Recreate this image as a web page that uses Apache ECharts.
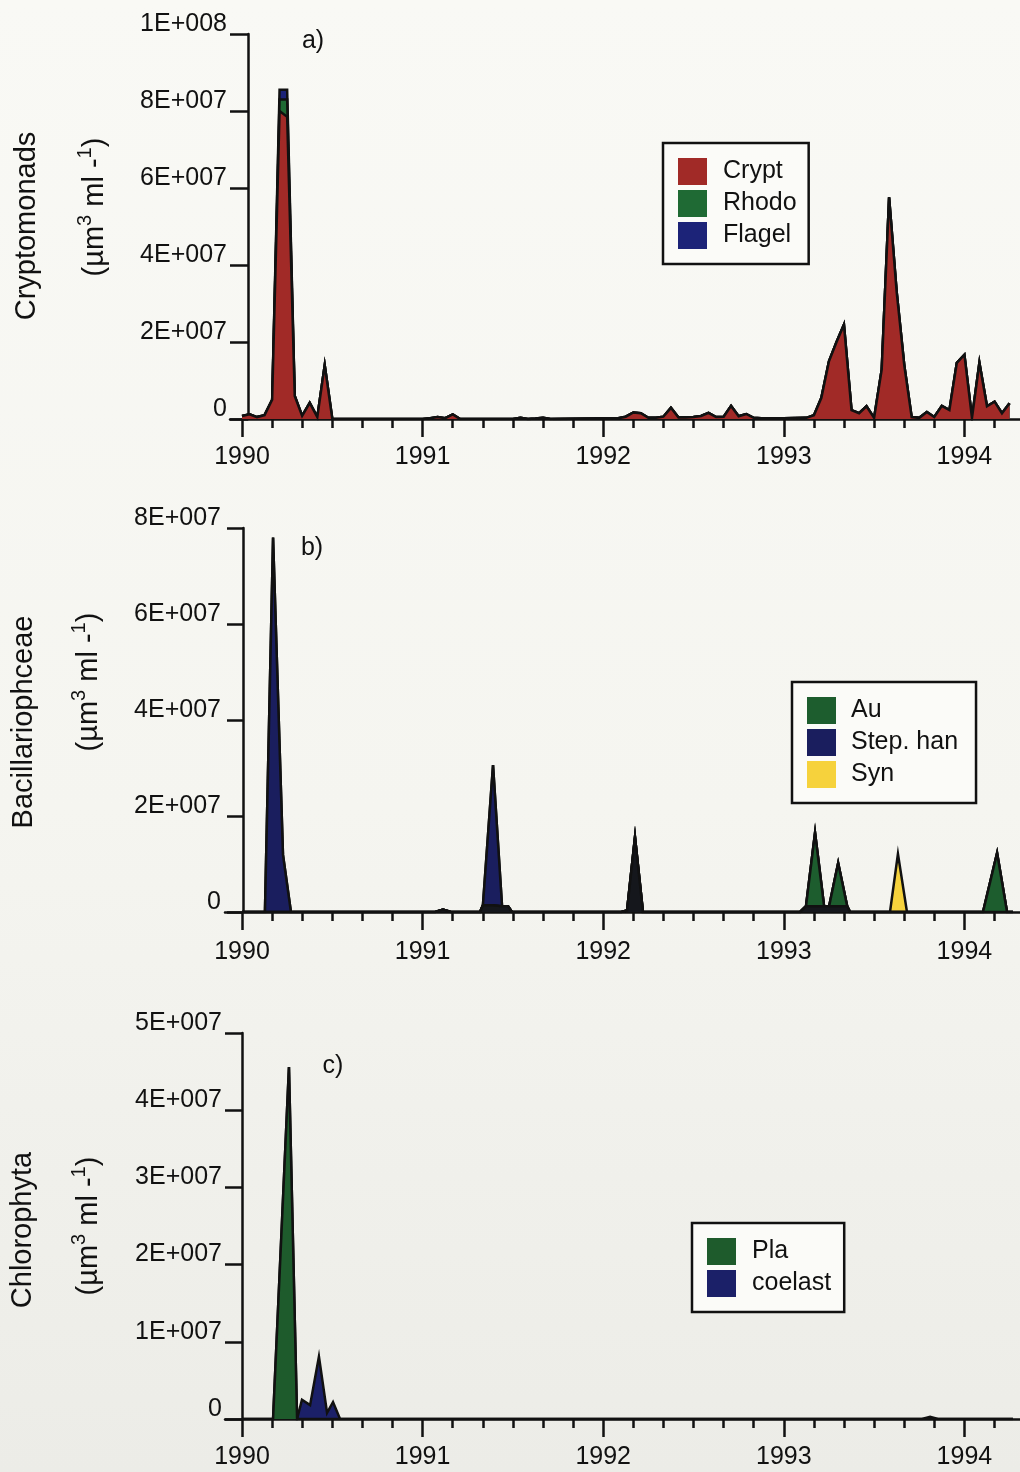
<!DOCTYPE html>
<html>
<head>
<meta charset="utf-8">
<script src="https://cdn.jsdelivr.net/npm/echarts@6/dist/echarts.min.js"></script>
<style>
  html, body { margin: 0; padding: 0; }
  body { background: linear-gradient(#F9F9F5 0%, #F5F5F0 55%, #ECECE7 100%); }
  #chart { width: 1020px; height: 1472px; }
</style>
</head>
<body>
<div id="chart"></div>
<script>
// ---- Panel a: Cryptomonads (sampling dates in decimal years, biovolume in µm3 ml-1)
const datesA = [1990.000, 1990.042, 1990.083, 1990.125, 1990.167, 1990.208, 1990.250, 1990.292, 1990.333, 1990.375,
  1990.417, 1990.458, 1990.500, 1990.833, 1991.000, 1991.042, 1991.083, 1991.125, 1991.167, 1991.208,
  1991.500, 1991.542, 1991.583, 1991.625, 1991.667, 1991.708, 1992.083, 1992.125, 1992.167, 1992.208,
  1992.250, 1992.292, 1992.333, 1992.375, 1992.417, 1992.458, 1992.500, 1992.542, 1992.583, 1992.625,
  1992.667, 1992.708, 1992.750, 1992.792, 1992.833, 1992.875, 1993.000, 1993.125, 1993.167, 1993.208,
  1993.250, 1993.292, 1993.333, 1993.375, 1993.417, 1993.458, 1993.500, 1993.542, 1993.583, 1993.625,
  1993.667, 1993.708, 1993.750, 1993.792, 1993.833, 1993.875, 1993.917, 1993.958, 1994.000, 1994.042,
  1994.083, 1994.125, 1994.167, 1994.208, 1994.250];
const cryptA = [0.08e7, 0.12e7, 0.05e7, 0.1e7, 0.5e7, 8.0e7, 7.85e7, 0.6e7, 0.08e7, 0.42e7,
  0.05e7, 1.4e7, 0, 0, 0, 0.02e7, 0.05e7, 0.02e7, 0.12e7, 0,
  0, 0.03e7, 0, 0.01e7, 0.03e7, 0, 0.02e7, 0.06e7, 0.17e7, 0.15e7,
  0.03e7, 0.03e7, 0.06e7, 0.29e7, 0.04e7, 0.04e7, 0.05e7, 0.08e7, 0.16e7, 0.05e7,
  0.06e7, 0.34e7, 0.07e7, 0.13e7, 0.03e7, 0.02e7, 0.02e7, 0.03e7, 0.1e7, 0.55e7,
  1.5e7, 2.0e7, 2.45e7, 0.23e7, 0.15e7, 0.33e7, 0.03e7, 1.28e7, 5.76e7, 3.3e7,
  1.4e7, 0.05e7, 0.03e7, 0.18e7, 0.05e7, 0.34e7, 0.23e7, 1.46e7, 1.67e7, 0.03e7,
  1.46e7, 0.33e7, 0.45e7, 0.15e7, 0.41e7];
const rhodoA = [0, 0, 0, 0, 0, 0.3e7, 0.45e7, 0, 0, 0,
  0, 0, 0, 0, 0, 0, 0, 0, 0, 0,
  0, 0, 0, 0, 0, 0, 0, 0, 0, 0,
  0, 0, 0, 0, 0, 0, 0, 0, 0, 0,
  0, 0, 0, 0, 0, 0, 0, 0, 0, 0,
  0, 0, 0, 0, 0, 0, 0, 0, 0, 0,
  0, 0, 0, 0, 0, 0, 0, 0, 0, 0,
  0, 0, 0, 0, 0];
const flagelA = [0, 0, 0, 0, 0, 0.25e7, 0.25e7, 0, 0, 0,
  0, 0, 0, 0, 0, 0, 0, 0, 0, 0,
  0, 0, 0, 0, 0, 0, 0, 0, 0, 0,
  0, 0, 0, 0, 0, 0, 0, 0, 0, 0,
  0, 0, 0, 0, 0, 0, 0, 0, 0, 0,
  0, 0, 0, 0, 0, 0, 0, 0, 0, 0,
  0, 0, 0, 0, 0, 0, 0, 0, 0, 0,
  0, 0, 0, 0, 0];

// ---- Panel b: Bacillariophceae
const datesB = [1990.000, 1990.127, 1990.172, 1990.227, 1990.271, 1991.069, 1991.113, 1991.157, 1991.318, 1991.334,
  1991.390, 1991.440, 1991.473, 1991.495, 1992.099, 1992.132, 1992.176, 1992.220, 1993.090, 1993.123,
  1993.173, 1993.223, 1993.251, 1993.301, 1993.351, 1993.367, 1993.588, 1993.632, 1993.682, 1994.103,
  1994.181, 1994.236, 1994.269];
const otherB = [0, 0, 0, 0, 0, 0, 0.05e7, 0, 0, 0.14e7,
  0.14e7, 0.12e7, 0.12e7, 0, 0, 0.03e7, 1.56e7, 0, 0, 0.12e7,
  0.12e7, 0.12e7, 0.12e7, 0.12e7, 0.12e7, 0, 0, 0, 0, 0,
  0, 0, 0];
const auB = [0, 0, 0, 0, 0, 0, 0, 0, 0, 0,
  0, 0, 0, 0, 0, 0, 0, 0, 0, 0,
  1.53e7, 0, 0, 0.9e7, 0, 0, 0, 0, 0, 0,
  1.23e7, 0, 0];
const stepB = [0, 0, 7.8e7, 1.19e7, 0, 0, 0, 0, 0, 0,
  2.92e7, 0, 0, 0, 0, 0, 0, 0, 0, 0,
  0, 0, 0, 0, 0, 0, 0, 0, 0, 0,
  0, 0, 0];
const synB = [0, 0, 0, 0, 0, 0, 0, 0, 0, 0,
  0, 0, 0, 0, 0, 0, 0, 0, 0, 0,
  0, 0, 0, 0, 0, 0, 0, 1.21e7, 0, 0,
  0, 0, 0];

// ---- Panel c: Chlorophyta
const datesC = [1990.000, 1990.172, 1990.260, 1990.305, 1990.332, 1990.377, 1990.426, 1990.471, 1990.504, 1990.543,
  1993.765, 1993.810, 1993.854, 1994.269];
const plaC = [0, 0, 4.56e7, 0, 0, 0, 0, 0, 0, 0, 0, 0, 0, 0];
const coelC = [0, 0, 0, 0, 0.25e7, 0.18e7, 0.81e7, 0.08e7, 0.22e7, 0, 0, 0.03e7, 0, 0];

// ---- Axis tick values
const yearTicks = [1990, 1991, 1992, 1993, 1994];
const yMaxA = 1e8, yStepA = 2e7;
const yMaxB = 8e7, yStepB = 2e7;
const yMaxC = 5e7, yStepC = 1e7;

// ---- Styling / layout
const FONT = '"Liberation Sans", Arial, Helvetica, sans-serif';
const INK = '#111111';
const PX_PER_YEAR = 180.6;   // horizontal scale
const X1990 = 242;           // pixel position of the 1990 tick
const RIGHT_EDGE = 1020;

// two-month minor ticks between the year ticks
const minorTicks = [];
yearTicks.forEach(y => { for (let j = 1; j < 6; j++) minorTicks.push(+(y + j / 6).toFixed(4)); });

function sciLabel(v) {
  if (v === 0) return '0';
  const e = Math.floor(Math.log10(v) + 1e-9);
  const m = Math.round(v / Math.pow(10, e));
  return m + 'E+' + String(e).padStart(3, '0');
}

const panels = [
  { top: 34,   height: 385, left: 230, axisX: 248, yMax: yMaxA, yStep: yStepA, tickLen: 18, yMargin: 21, xMargin: 25 },
  { top: 528,  height: 384, left: 225, axisX: 243, yMax: yMaxB, yStep: yStepB, tickLen: 16, yMargin: 22, xMargin: 27 },
  { top: 1033, height: 386, left: 225, axisX: 242, yMax: yMaxC, yStep: yStepC, tickLen: 17, yMargin: 20, xMargin: 25 }
];

const grid = [], xAxis = [], yAxis = [];
panels.forEach((p, gi) => {
  grid.push({ left: p.left, top: p.top, height: p.height, right: 0, containLabel: false, outerBoundsMode: 'none' });
  const xmin = 1990 - (X1990 - p.left) / PX_PER_YEAR;
  const xmax = 1990 + (RIGHT_EDGE - X1990) / PX_PER_YEAR;
  xAxis.push({
    gridIndex: gi, type: 'value', position: 'bottom', min: xmin, max: xmax,
    axisLine: { show: true, onZero: false, lineStyle: { color: INK, width: 2.5 } },
    axisTick: { show: true, customValues: yearTicks, length: 18, lineStyle: { color: INK, width: 2.5 } },
    axisLabel: { show: true, customValues: yearTicks, formatter: v => String(Math.round(v)),
      fontSize: 25, lineHeight: 27, fontFamily: FONT, color: INK, margin: p.xMargin },
    splitLine: { show: false }
  });
  xAxis.push({
    gridIndex: gi, type: 'value', position: 'bottom', min: xmin, max: xmax,
    axisLine: { show: false },
    axisTick: { show: true, customValues: minorTicks, length: 9, lineStyle: { color: INK, width: 2.5 } },
    axisLabel: { show: false },
    splitLine: { show: false }
  });
  yAxis.push({
    gridIndex: gi, type: 'value', min: 0, max: p.yMax, interval: p.yStep,
    offset: -(p.axisX - p.left),
    axisLine: { show: true, onZero: false, lineStyle: { color: INK, width: 2.5 } },
    axisTick: { show: true, length: p.tickLen, lineStyle: { color: INK, width: 2.5 } },
    // labels sit just above their tick
    axisLabel: { formatter: sciLabel, fontSize: 25, lineHeight: 20, fontFamily: FONT, color: INK,
      margin: p.yMargin, verticalAlign: 'bottom' },
    splitLine: { show: false }
  });
});

// Cumulative tops of the stacked layers (bottom layer first)
function cumulate(layers) {
  const out = [];
  let run = layers[0].map(() => 0);
  layers.forEach(vals => { run = run.map((s, i) => s + vals[i]); out.push(run.slice()); });
  return out;
}

const C = {
  crypt: '#A12A27', rhodo: '#1F6A34', flagel: '#1C2378',
  other: '#15171C', au: '#1D5D2E', step: '#1A1E5E', syn: '#F6D23C',
  pla: '#1E5B2C', coel: '#1B2068'
};

// each layer fills from the axis up to its cumulative top; lower layers sit in front
function stackedPanel(gi, dates, layers) {
  const tops = cumulate(layers.map(l => l.values));
  return layers.map((l, k) => ({
    name: l.name, type: 'line', xAxisIndex: gi * 2, yAxisIndex: gi,
    data: dates.map((d, i) => [d, tops[k][i]]),
    symbol: 'none', showSymbol: false, silent: true, animation: false,
    lineStyle: { color: INK, width: 2.5, join: 'miter' },
    areaStyle: { color: l.color, opacity: 1 },
    itemStyle: { color: l.color },
    emphasis: { disabled: true },
    z: 10 - k
  }));
}

const series = [].concat(
  stackedPanel(0, datesA, [
    { name: 'Crypt', values: cryptA, color: C.crypt },
    { name: 'Rhodo', values: rhodoA, color: C.rhodo },
    { name: 'Flagel', values: flagelA, color: C.flagel }
  ]),
  stackedPanel(1, datesB, [
    { name: 'Other', values: otherB, color: C.other },
    { name: 'Au', values: auB, color: C.au },
    { name: 'Step. han', values: stepB, color: C.step },
    { name: 'Syn', values: synB, color: C.syn }
  ]),
  stackedPanel(2, datesC, [
    { name: 'Pla', values: plaC, color: C.pla },
    { name: 'coelast', values: coelC, color: C.coel }
  ])
);

function legendBox(names, colors, left, top, padding, textPad) {
  return {
    show: true, orient: 'vertical', left: left, top: top, padding: padding,
    selectedMode: false, icon: 'rect', itemWidth: 29, itemHeight: 27, itemGap: 5,
    borderColor: INK, borderWidth: 2.5, backgroundColor: '#FBFBF8', borderRadius: 0,
    itemStyle: { borderWidth: 0 },
    textStyle: { fontSize: 25, fontFamily: FONT, color: INK, lineHeight: 27, padding: [0, 0, 0, textPad] },
    data: names.map((n, i) => ({ name: n, itemStyle: { color: colors[i], borderWidth: 0 } }))
  };
}

const legend = [
  legendBox(['Crypt', 'Rhodo', 'Flagel'], [C.crypt, C.rhodo, C.flagel], 663, 143, [15, 12, 15, 15], 11),
  legendBox(['Au', 'Step. han', 'Syn'], [C.au, C.step, C.syn], 792, 682, [15, 18, 15, 15], 10),
  legendBox(['Pla', 'coelast'], [C.pla, C.coel], 692, 1223, [15, 13, 15, 15], 11)
];

const titleStyle = { fontSize: 29, fontFamily: FONT, fill: INK, align: 'center', verticalAlign: 'middle' };
const unitStyle = Object.assign({}, titleStyle, {
  text: '(µm{s|3} ml -{s|1})', lineHeight: 34,
  rich: { s: { fontSize: 20, fontFamily: FONT, fill: INK, padding: [0, 0, 20, 0], lineHeight: 34 } }
});
function rotText(x, y, style) { return { type: 'text', x: x, y: y, rotation: Math.PI / 2, silent: true, style: style }; }
function tag(x, y, t) {
  return { type: 'text', x: x, y: y, silent: true,
    style: { text: t, fontSize: 25, fontFamily: FONT, fill: INK, align: 'center', verticalAlign: 'middle' } };
}

const graphic = [
  tag(313, 41, 'a)'), tag(312, 548, 'b)'), tag(333, 1066, 'c)'),
  rotText(27, 226, Object.assign({}, titleStyle, { text: 'Cryptomonads' })),
  rotText(95, 207, unitStyle),
  rotText(24, 722, Object.assign({}, titleStyle, { text: 'Bacillariophceae' })),
  rotText(89, 682, unitStyle),
  rotText(23, 1230, Object.assign({}, titleStyle, { text: 'Chlorophyta' })),
  rotText(89, 1226, unitStyle)
];

const chart = echarts.init(document.getElementById('chart'), null, { renderer: 'canvas' });
chart.setOption({
  backgroundColor: 'transparent',
  animation: false,
  grid, xAxis, yAxis, series, legend, graphic,
  tooltip: { show: false }
});
</script>
</body>
</html>
